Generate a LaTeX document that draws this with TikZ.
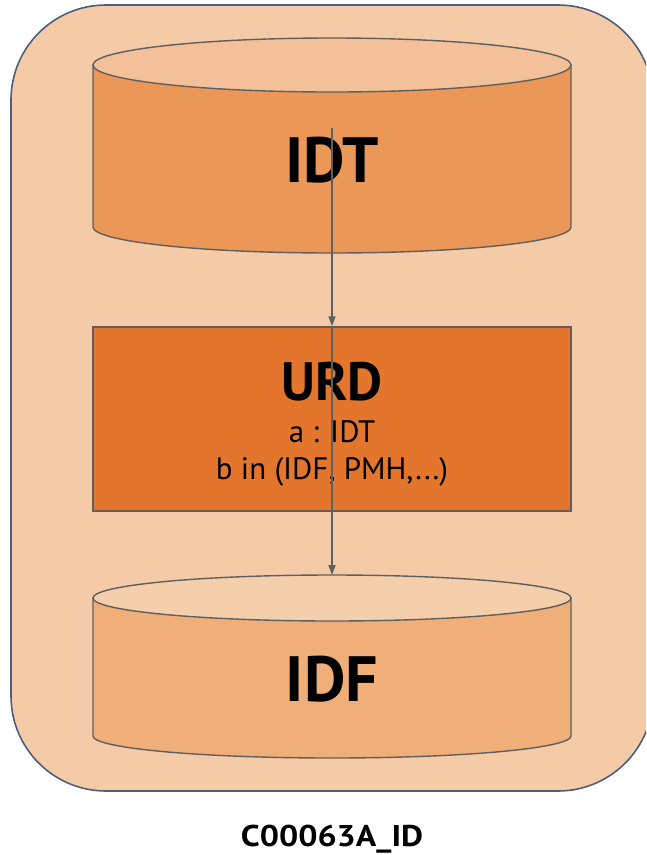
\documentclass[tikz,border=0pt]{standalone}
\usepackage{fontspec}
\setmainfont{PT Sans}
\usetikzlibrary{arrows.meta}

\definecolor{panelfill}{HTML}{F5CBA7}
\definecolor{panelline}{HTML}{4C5E7A}
\definecolor{idttop}{HTML}{F3C09A}
\definecolor{idtbody}{HTML}{EB9758}
\definecolor{urdfill}{HTML}{E3752C}
\definecolor{idftop}{HTML}{F5CEAB}
\definecolor{idfbody}{HTML}{F0AE78}
\definecolor{edge}{HTML}{5F5F5F}

\tikzset{
  outline/.style={draw=edge, line width=1.4pt},
  flow/.style={draw=edge, line width=1.6pt, -{Triangle[length=10pt,width=7pt]}},
  bigtitle/.style={font=\fontsize{64}{64}\selectfont\bfseries, inner sep=0pt, anchor=base},
  boxtitle/.style={font=\fontsize{54}{54}\selectfont\bfseries, inner sep=0pt, anchor=base},
  boxline/.style={font=\fontsize{31}{31}\selectfont, inner sep=0pt, anchor=base},
  caption/.style={font=\fontsize{30}{30}\selectfont\bfseries, inner sep=0pt, anchor=base, xscale=1.13},
}

\begin{document}
\begin{tikzpicture}[x=1pt,y=1pt]
  \useasboundingbox (0,0) rectangle (646,-855);
  \clip (0,0) rectangle (646,-855);

  % outer panel
  \draw[fill=panelfill, draw=panelline, line width=1.6pt, rounded corners=95pt]
    (11,-5) rectangle (653,-791);

  % IDT cylinder
  \path[outline, fill=idtbody] (93,-65) -- (93,-227)
    arc[start angle=180, end angle=360, x radius=239pt, y radius=26pt]
    -- (571,-65) -- cycle;
  \path[outline, fill=idttop] (332,-65) ellipse [x radius=239pt, y radius=27pt];
  \node[bigtitle] (idt) at (332,-182) {IDT};
  \coordinate (idtsrc) at (332,-128);

  % URD box
  \node[outline, fill=urdfill, minimum width=478pt, minimum height=184pt,
        inner sep=0pt] (urd) at (332,-419) {};
  \node[boxtitle] (urdtitle) at (332,-400) {URD};
  \node[boxline] (urda) at (332,-442) {a : IDT};
  \node[boxline] (urdb) at (332,-479) {b in (IDF, PMH,...)};

  % IDF cylinder
  \path[outline, fill=idfbody] (93,-598) -- (93,-736)
    arc[start angle=180, end angle=360, x radius=239pt, y radius=22pt]
    -- (571,-598) -- cycle;
  \path[outline, fill=idftop] (332,-598) ellipse [x radius=239pt, y radius=23pt];
  \node[bigtitle] (idf) at (332,-701) {IDF};
  \coordinate (idftopedge) at (332,-575);

  % connectors
  \draw[flow] (idtsrc) -- (urd.north);
  \draw[flow] (urd.north) -- (idftopedge);

  % caption
  \node[caption] (label) at (332,-846) {C00063A\_ID};
\end{tikzpicture}
\end{document}
